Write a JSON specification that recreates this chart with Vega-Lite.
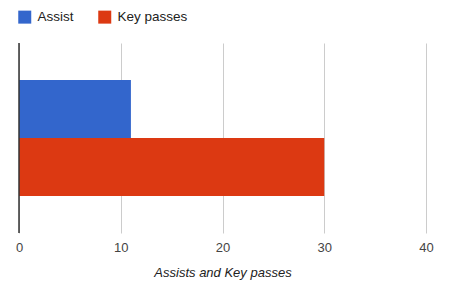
{
  "$schema": "https://vega.github.io/schema/vega-lite/v6.json",
  "width": 407,
  "height": 190,
  "autosize": "none",
  "padding": {"left": 19, "top": 43, "right": 31, "bottom": 57},
  "background": "white",
  "data": {"values": [
    {"series": "Assist", "value": 11},
    {"series": "Key passes", "value": 30}
  ]},
  "layer": [
    {
      "mark": {"type": "bar"},
      "encoding": {
        "y": {"field": "series", "type": "nominal", "sort": ["Assist", "Key passes"],
              "scale": {"paddingInner": 0, "paddingOuter": 0.638}, "axis": null},
        "x": {"field": "value", "type": "quantitative",
              "scale": {"domain": [0, 40], "nice": false},
              "axis": {"values": [0, 10, 20, 30, 40], "title": "Assists and Key passes",
                "titleFontStyle": "italic", "titleFontWeight": "normal", "titleFont": "Liberation Sans",
                "titleFontSize": 13, "titleColor": "#222", "titlePadding": 12,
                "labelFont": "Liberation Sans", "labelFontSize": 13, "labelColor": "#444", "labelPadding": 8,
                "labelFlush": false, "labelOverlap": false,
                "domain": false, "ticks": false, "grid": true, "gridColor": "#cccccc", "gridOpacity": 1}},
        "color": {"field": "series", "type": "nominal",
          "scale": {"domain": ["Assist", "Key passes"], "range": ["#3366cc", "#dc3912"]},
          "legend": {"title": null, "orient": "none", "legendX": -1, "legendY": -33, "direction": "horizontal",
            "symbolType": "square", "symbolSize": 169, "symbolStrokeWidth": 0, "symbolOpacity": 1,
            "labelFont": "Liberation Sans", "labelFontSize": 13.5, "labelColor": "#222", "columnPadding": 24, "labelOffset": 6}}
      }
    },
    {
      "mark": {"type": "rule", "color": "#333333", "strokeWidth": 1},
      "encoding": {"x": {"datum": 0, "type": "quantitative"}}
    }
  ],
  "config": {"view": {"stroke": null}}
}
